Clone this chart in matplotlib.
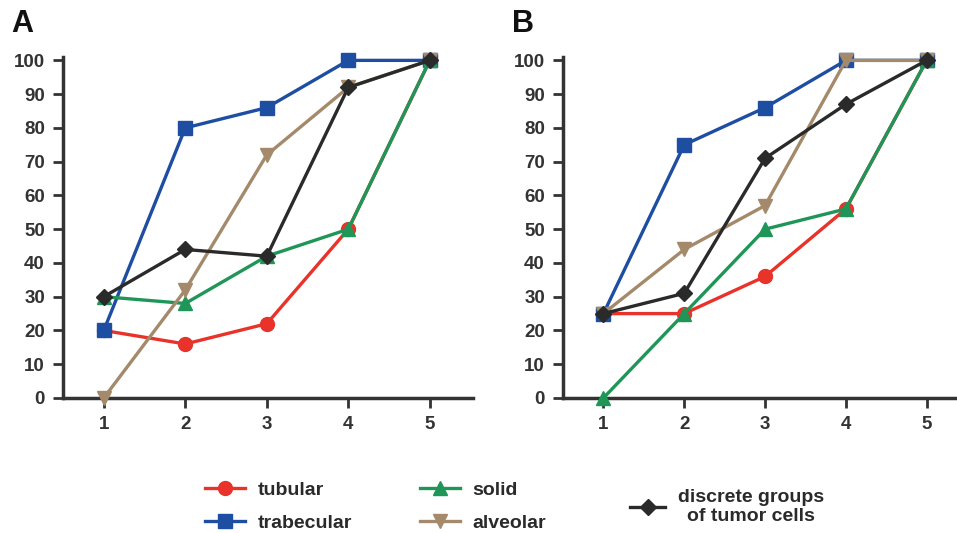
import matplotlib
matplotlib.use("Agg")
import matplotlib.pyplot as plt
from matplotlib.lines import Line2D

plt.rcParams['font.family'] = ['Liberation Sans', 'DejaVu Sans']

x = [1, 2, 3, 4, 5]
series_names = ["tubular", "trabecular", "solid", "alveolar", "discrete groups\nof tumor cells"]

A_tubular = [20, 16, 22, 50, 100]
A_trabecular = [20, 80, 86, 100, 100]
A_solid = [30, 28, 42, 50, 100]
A_alveolar = [0, 32, 72, 92, 100]
A_discrete = [30, 44, 42, 92, 100]

B_tubular = [25, 25, 36, 56, 100]
B_trabecular = [25, 75, 86, 100, 100]
B_solid = [0, 25, 50, 56, 100]
B_alveolar = [25, 44, 57, 100, 100]
B_discrete = [25, 31, 71, 87, 100]

yticks = [0, 10, 20, 30, 40, 50, 60, 70, 80, 90, 100]

styles = {
    "tubular": dict(color="#e8322a", marker="o", ms=10),
    "trabecular": dict(color="#1d4ea1", marker="s", ms=10),
    "solid": dict(color="#1f9658", marker="^", ms=10),
    "alveolar": dict(color="#a48a6a", marker="v", ms=10),
    "discrete": dict(color="#2a2a2a", marker="D", ms=8),
}
order = ["tubular", "trabecular", "solid", "alveolar", "discrete"]

W, H = 957, 533
fig = plt.figure(figsize=(W / 100, H / 100), dpi=100)

def fx(px):
    return px / W

def fy(py):
    return 1 - py / H

axA = fig.add_axes([fx(63), fy(398), fx(473) - fx(63), fy(57) - fy(398)])
axB = fig.add_axes([fx(563), fy(398), fx(955) - fx(563), fy(57) - fy(398)])

dark = "#333333"
for ax, data, xr in [
    (axA, [A_tubular, A_trabecular, A_solid, A_alveolar, A_discrete], (0.5, 5.53)),
    (axB, [B_tubular, B_trabecular, B_solid, B_alveolar, B_discrete], (0.5, 5.35)),
]:
    for key, vals in zip(order, data):
        st = styles[key]
        ax.plot(x, vals, color=st["color"], marker=st["marker"], ms=st["ms"],
                lw=2.4, clip_on=False, zorder=3)
    ax.set_xlim(*xr)
    ax.set_ylim(0, 101)
    ax.set_xticks(x)
    ax.set_yticks(yticks)
    for s in ["top", "right"]:
        ax.spines[s].set_visible(False)
    for s in ["left", "bottom"]:
        ax.spines[s].set_linewidth(2.5)
        ax.spines[s].set_color(dark)
    ax.tick_params(axis="both", direction="out", length=7, width=2, color=dark,
                   labelsize=13.5, labelcolor=dark, pad=6)
    for lab in ax.get_xticklabels() + ax.get_yticklabels():
        lab.set_fontweight("bold")

fig.text(fx(11), fy(24), "A", fontsize=22, fontweight="bold", va="center", ha="left", color="#111111")
fig.text(fx(512), fy(24), "B", fontsize=22, fontweight="bold", va="center", ha="left", color="#111111")

def mk(key):
    st = styles[key]
    return Line2D([], [], color=st["color"], marker=st["marker"], ms=st["ms"], lw=2.4)

leg_font = dict(size=14, weight="bold")
common = dict(frameon=False, prop=leg_font, handlelength=2.05, handletextpad=0.65,
              labelspacing=0.82, borderpad=0, borderaxespad=0, loc="upper left")
l1 = fig.legend([mk("tubular"), mk("trabecular")], ["tubular", "trabecular"],
                bbox_to_anchor=(fx(205), fy(481)), **common)
l2 = fig.legend([mk("solid"), mk("alveolar")], ["solid", "alveolar"],
                bbox_to_anchor=(fx(420), fy(481)), **common)
l3 = fig.legend([mk("discrete")], ["discrete groups\nof tumor cells"],
                bbox_to_anchor=(fx(630), fy(507)), frameon=False, prop=leg_font,
                handlelength=1.8, handletextpad=0.65, borderpad=0, borderaxespad=0,
                loc="center left")
for leg in (l1, l2, l3):
    for t in leg.get_texts():
        t.set_color("#2a2a2a")
for t in l3.get_texts():
    t.set_multialignment("center")

fig.savefig("out.png", dpi=100)
